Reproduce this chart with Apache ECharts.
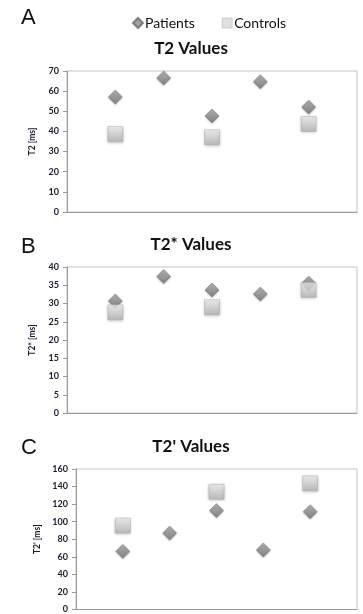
<!DOCTYPE html>
<html>
<head>
<meta charset="utf-8">
<script src="https://cdn.jsdelivr.net/npm/echarts@6/dist/echarts.min.js"></script>
<style>html,body{margin:0;padding:0;background:#fff}#c{width:363px;height:614px}</style>
</head>
<body>
<div id="c"></div>
<script>
// Data (x positions 1..5 are subjects)
const subjects = [1, 2, 3, 4, 5];
const t2Patients = [57.1, 66.5, 47.7, 64.7, 52.1];
const t2Controls = [38.7, null, 37.1, null, 43.7];
const t2sPatients = [30.7, 37.4, 33.7, 32.6, 35.6];
const t2sControls = [27.6, null, 29.0, null, 33.7];
const t2pPatients = [66.2, 87.0, 112.6, 67.8, 111.4];
const t2pControls = [95.5, null, 134.0, null, 143.7];
const panelTitles = ['T2 Values', 'T2* Values', "T2' Values"];
const panelLetters = ['A', 'B', 'C'];
const axisNames = ['T2 [ms]', 'T2* [ms]', "T2' [ms]"];
const yMax = [70, 40, 160];
const yStep = [10, 5, 20];

function pts(vals) {
  return subjects.map((s, i) => [s, vals[i]]).filter(p => p[1] != null);
}

const diamondColor = {type: 'linear', x: 0, y: 0, x2: 0, y2: 1,
  colorStops: [{offset: 0, color: '#a8a8a8'}, {offset: 1, color: '#6e6e6e'}]};
const squareColor = {type: 'linear', x: 0, y: 0, x2: 0, y2: 1,
  colorStops: [{offset: 0, color: '#f4f4f4'}, {offset: 1, color: '#b4b4b4'}]};

const grids = [
  {left: 67, top: 71, width: 290, height: 141},
  {left: 67, top: 267, width: 290, height: 146},
  {left: 76, top: 469, width: 281, height: 144}
].map(g => Object.assign(g, {show: true, borderColor: '#c4c4c4', borderWidth: 1, backgroundColor: '#fff'}));

const xAxes = grids.map((g, i) => ({
  type: 'value', gridIndex: i, min: 0, max: 6,
  axisLabel: {show: false}, axisTick: {show: false}, splitLine: {show: false},
  axisLine: {show: true, onZero: false, lineStyle: {color: '#9a9a9a', width: 1}}
}));

const yAxes = grids.map((g, i) => ({
  type: 'value', gridIndex: i, min: 0, max: yMax[i], interval: yStep[i],
  name: axisNames[i], nameLocation: 'middle', nameGap: 30, nameRotate: 90,
  nameTextStyle: {fontFamily: 'Lato', fontWeight: 'bold', fontSize: 8.5, color: '#1c1c2c'},
  axisLabel: {fontFamily: 'Lato', fontWeight: 'bold', fontSize: 9, color: '#1c1c2c', margin: 8},
  axisTick: {show: true, length: 4, lineStyle: {color: '#9a9a9a'}},
  axisLine: {show: true, lineStyle: {color: '#9a9a9a', width: 1}},
  splitLine: {show: false}
}));

const patientSets = [t2Patients, t2sPatients, t2pPatients];
const controlSets = [t2Controls, t2sControls, t2pControls];
const series = [];
for (let i = 0; i < 3; i++) {
  series.push({
    name: 'Patients', type: 'scatter', xAxisIndex: i, yAxisIndex: i,
    symbol: 'diamond', symbolSize: 14, data: pts(patientSets[i]),
    itemStyle: {color: diamondColor, borderColor: '#6a6a6a', borderWidth: 0.6,
      shadowBlur: 2, shadowColor: 'rgba(0,0,0,0.25)', shadowOffsetY: 1},
    z: 2
  });
  series.push({
    name: 'Controls', type: 'scatter', xAxisIndex: i, yAxisIndex: i,
    symbol: 'rect', symbolSize: 15, data: pts(controlSets[i]),
    itemStyle: {color: squareColor, borderColor: '#a8a8a8', borderWidth: 0.6,
      shadowBlur: 3, shadowColor: 'rgba(0,0,0,0.3)', shadowOffsetY: 1},
    z: 3
  });
}

const titleY = [49, 245, 447];
const letterY = [18, 247, 448];
const graphics = [];
for (let i = 0; i < 3; i++) {
  graphics.push({type: 'text', x: 191, y: titleY[i],
    style: {text: panelTitles[i], textAlign: 'center', textVerticalAlign: 'middle',
      font: 'bold 17px Lato', fill: '#111'}});
  graphics.push({type: 'text', x: 21, y: letterY[i],
    style: {text: panelLetters[i], textAlign: 'left', textVerticalAlign: 'middle',
      font: '22px "Liberation Sans"', fill: '#111'}});
}

const chart = echarts.init(document.getElementById('c'), null, {renderer: 'canvas'});
chart.setOption({
  animation: false,
  backgroundColor: '#fff',
  legend: {
    data: [
      {name: 'Patients', icon: 'diamond', itemStyle: {color: '#8a8a8a'}},
      {name: 'Controls', icon: 'rect', itemStyle: {color: '#d8d8d8', borderColor: '#aaa', borderWidth: 0.6}}
    ],
    left: 127, top: 11, itemWidth: 10, itemHeight: 10, itemGap: 27,
    textStyle: {fontFamily: 'Lato', fontSize: 14, color: '#111', padding: [0, 0, 0, -3]}
  },
  grid: grids, xAxis: xAxes, yAxis: yAxes, series: series, graphic: graphics
});
</script>
</body>
</html>
